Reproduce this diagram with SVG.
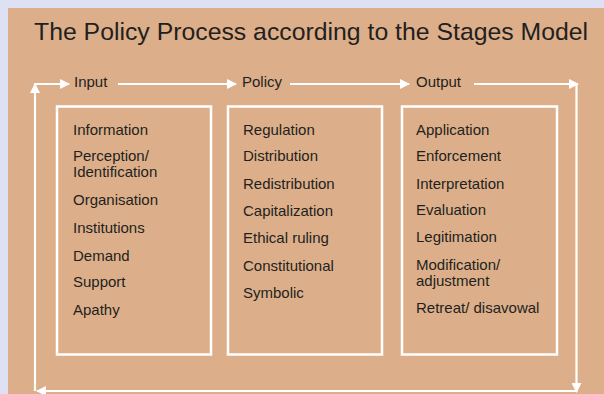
<svg xmlns="http://www.w3.org/2000/svg" width="604" height="394" viewBox="0 0 604 394">
  <defs>
    <marker id="ah" viewBox="0 0 10 10" refX="9" refY="5" markerWidth="10" markerHeight="10" markerUnits="userSpaceOnUse" orient="auto">
      <path d="M0,0 L10,5 L0,10 z" fill="#ffffff"/>
    </marker>
    <style>
      .bg { fill: #dde1f3; }
      .panel { fill: #dcaf8a; }
      .title { font-family: "Liberation Sans", Arial, sans-serif; font-size: 24.8px; fill: #231f20; }
      .hdr { font-family: "Liberation Sans", Arial, sans-serif; font-size: 15px; fill: #231f20; }
      .item { font-family: "Liberation Sans", Arial, sans-serif; font-size: 15px; fill: #231f20; }
      .box { fill: none; stroke: #ffffff; stroke-width: 2.5; }
      .conn { fill: none; stroke: #ffffff; stroke-width: 2.2; marker-end: url(#ah); }
    </style>
  </defs>

  <rect class="bg" x="0" y="0" width="604" height="394"/>
  <rect class="panel" x="8" y="8" width="596" height="386"/>

  <text class="title" x="34" y="40">The Policy Process according to the Stages Model</text>

  <g id="connectors">
    <path class="conn" d="M35,391 V84"/>
    <path class="conn" d="M34,84 H69"/>
    <path class="conn" d="M118,84 H236"/>
    <path class="conn" d="M290,84 H409"/>
    <path class="conn" d="M474,84 H578"/>
    <path class="conn" d="M576.5,84 V392"/>
    <path class="conn" d="M577,391 H37"/>
  </g>

  <g id="input">
    <text class="hdr" x="74" y="87">Input</text>
    <rect class="box" x="57" y="106.5" width="154" height="248"/>
    <text class="item" x="73" y="135">Information</text>
    <text class="item" x="73" y="161">Perception/</text>
    <text class="item" x="73" y="177">Identification</text>
    <text class="item" x="73" y="205">Organisation</text>
    <text class="item" x="73" y="233">Institutions</text>
    <text class="item" x="73" y="261">Demand</text>
    <text class="item" x="73" y="287">Support</text>
    <text class="item" x="73" y="315">Apathy</text>
  </g>

  <g id="policy">
    <text class="hdr" x="242" y="87">Policy</text>
    <rect class="box" x="228" y="106.5" width="154" height="248"/>
    <text class="item" x="243" y="135">Regulation</text>
    <text class="item" x="243" y="161">Distribution</text>
    <text class="item" x="243" y="189">Redistribution</text>
    <text class="item" x="243" y="216">Capitalization</text>
    <text class="item" x="243" y="243">Ethical ruling</text>
    <text class="item" x="243" y="271">Constitutional</text>
    <text class="item" x="243" y="298">Symbolic</text>
  </g>

  <g id="output">
    <text class="hdr" x="416" y="87">Output</text>
    <rect class="box" x="402" y="106.5" width="155" height="248"/>
    <text class="item" x="416" y="135">Application</text>
    <text class="item" x="416" y="161">Enforcement</text>
    <text class="item" x="416" y="189">Interpretation</text>
    <text class="item" x="416" y="215">Evaluation</text>
    <text class="item" x="416" y="242">Legitimation</text>
    <text class="item" x="416" y="270">Modification/</text>
    <text class="item" x="416" y="286">adjustment</text>
    <text class="item" x="416" y="313">Retreat/ disavowal</text>
  </g>
</svg>
